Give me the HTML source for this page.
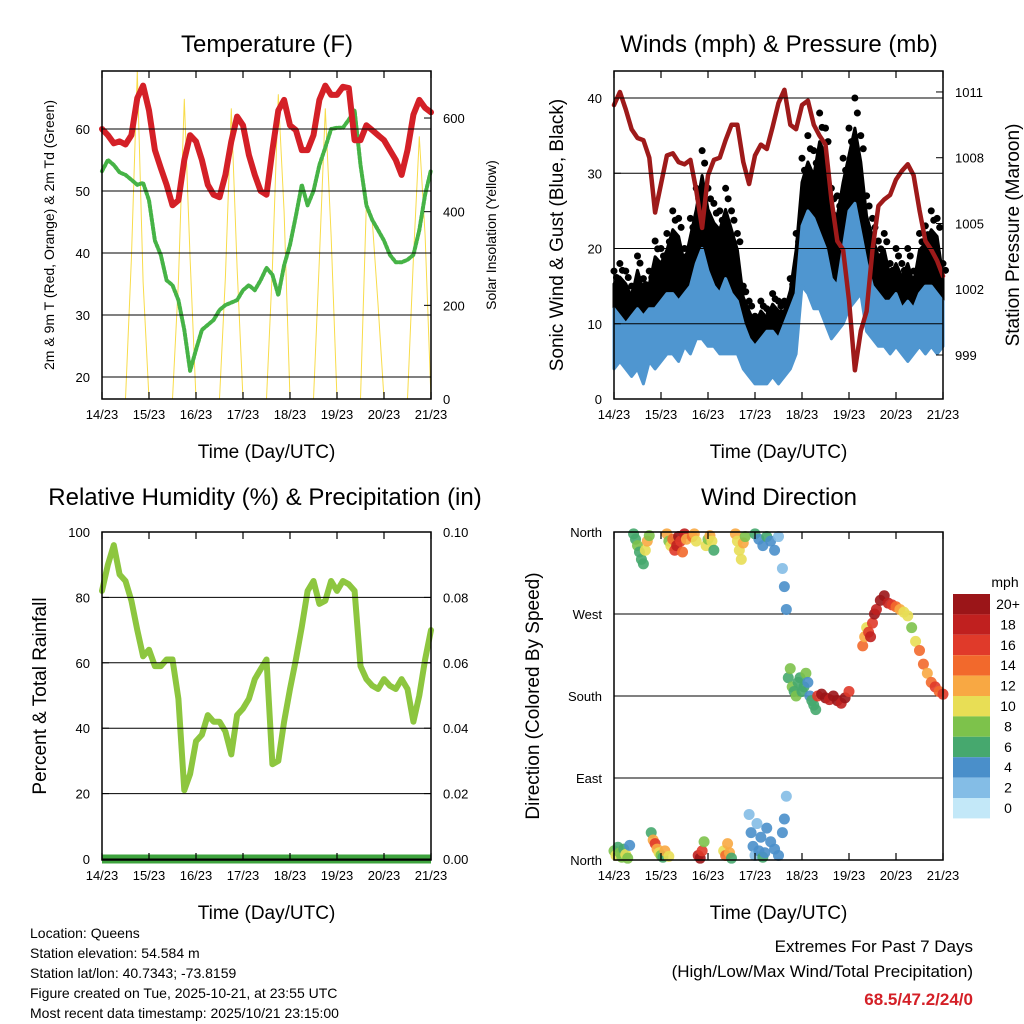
<!DOCTYPE html>
<html><head><meta charset="utf-8"><style>
html,body{margin:0;padding:0;background:#fff}
svg{display:block;font-family:"Liberation Sans",sans-serif}
</style></head><body>
<svg id="s" width="1024" height="1024" viewBox="0 0 1024 1024" xmlns="http://www.w3.org/2000/svg"></svg>
<script>
// ---- data (3-hourly, 57 points from 14/23 to 21/23) ----
const xTickLabels = ["14/23","15/23","16/23","17/23","18/23","19/23","20/23","21/23"];
const tempRed = [60,59,57.7,58,57.5,59,65,67,63,56.6,53.7,51,47.7,48.5,55,59,58,55,51,49.4,49,52.6,58,62,60.6,55.8,52.6,50,49.4,56.6,63,64.7,60.6,59.8,56.6,56.6,59,64.7,67,65.5,65.5,66.8,66.6,58.2,58.2,60.6,59.8,59,58.2,56.6,55,52.6,56.6,62.3,64.7,63.4,62.7];
const dewGreen = [53.2,55,54.2,53,52.6,51.8,51,51.3,48.5,42,39.7,35.6,34.8,32.4,27.6,21,24.4,27.6,28.4,29.2,30.8,31.6,32,32.4,34,34.8,34,35.6,37.6,36.5,33.2,38,41.3,46,51,47.7,50,54.2,57,60,60.2,60.2,61.5,63,54.2,47.7,45.3,43.7,42,39.7,38.5,38.5,38.9,39.7,43.7,49.4,53.4];
const solar = [0,0,0,0,0,300,700,250,0, 0,0,0,0,250,640,300,0, 0,0,0,0,260,620,280,0, 0,0,0,0,280,650,400,0, 0,0,0,0,300,620,350,0, 0,0,0,0,420,380,200,0, 0,0,0,0,300,560,350,0];
const windLow = [4,5,4,3,4,2,5,4,5,6,6,5,7,6,8,8,7,7,6,6,6,6,4,3,2,2,2,3,2,3,4,6,15,14,12,12,10,8,9,10,12,13,14,9,8,7,7,6,7,6,5,6,7,6,7,6,7];
const windHigh = [12,11,10,11,12,11,12,12,13,14,14,13,14,15,18,20,17,15,14,16,14,13,10,8,7,8,9,9,8,10,12,14,23,25,24,22,20,16,15,20,25,26,22,18,15,14,13,13,14,12,13,12,14,15,15,14,13];
const gustHigh = [17,18,17,15,19,16,17,21,20,22,25,24,20,24,28,33,28,26,25,28,25,22,15,13,11,13,12,14,13,13,16,22,32,35,33,38,36,28,27,32,36,40,35,27,24,21,22,18,20,18,20,17,22,23,25,24,18];
const pressure = [1010.4,1011,1010.2,1009.3,1008.9,1008.8,1008,1005.5,1006.8,1008.1,1008.2,1007.8,1007.7,1007.9,1006.5,1004.8,1007.2,1007.9,1008,1008.8,1009.5,1009.5,1007.8,1006.8,1008.1,1008.6,1008.4,1009.4,1010.5,1011.1,1009.5,1009.3,1010.4,1010.6,1009.5,1009,1008.6,1006.1,1004.2,1003.8,1001.5,998.3,1000.1,1001,1003.8,1005.8,1006.1,1006.3,1007,1007.4,1007.7,1007.2,1005.6,1004.2,1003.8,1003.3,1002.6];
const humidity = [82,90,96,87,85,79,70,62,64,59,59,61,61,49,21,26,36,38,44,42,42,39,32,44,46,49,55,58,61,29,30,42,52,61,71,82,85,78,79,85,82,85,84,82,59,55,53,52,55,53,52,55,52,42,50,61,70];
const precip = [0,0,0,0,0,0,0,0,0,0,0,0,0,0,0,0,0,0,0,0,0,0,0,0,0,0,0,0,0,0,0,0,0,0,0,0,0,0,0,0,0,0,0,0,0,0,0,0,0,0,0,0,0,0,0,0,0];
const dirHours = [0,1,2,3,4,5,6,7,8,10,11,12,13,14,15,16,17,18,19,20,21,22,23,24,25,26,28,27,28,29,30,31,32,33,34,35,36,37,43,44,45,46,40,41,42,47,48,49,50,51,56,57,58,59,60,62,63,64,65,66,67,69,70,71,72,73,74,75,76,77,78,80,82,84,86,87,88,72,74,76,78,80,82,84,86,87,88,89,90,91,92,93,94,95,96,97,98,99,100,101,102,103,104,106,108,110,112,114,116,118,120,127,128,129,130,131,132,133,134,136,138,140,142,144,146,148,150,152,154,156,158,160,162,164,166,168];
const dirDeg = [10,5,14,8,3,12,6,2,16,358,352,345,338,330,325,340,350,356,30,22,18,12,8,5,3,10,4,358,350,345,352,340,345,355,350,338,358,352,5,2,10,20,355,358,350,345,352,356,350,340,10,5,18,8,2,358,350,340,330,348,355,50,30,15,5,40,10,25,3,8,35,20,12,5,30,45,70,358,352,345,355,350,340,355,320,300,275,200,210,190,185,180,195,200,185,190,205,195,180,175,170,165,180,182,178,176,180,175,172,178,185,235,245,255,250,245,260,270,275,285,290,282,280,278,275,272,268,255,240,230,215,205,195,190,185,182];
const dirSpeed = [8,10,6,8,9,7,10,8,4,6,7,8,7,7,6,10,12,9,6,13,16,12,10,8,7,12,10,12,8,10,14,16,18,20,16,14,18,12,18,20,16,8,14,12,10,10,8,12,10,6,10,14,12,12,6,12,10,10,10,12,8,2,4,4,3,2,4,4,6,4,4,4,4,5,4,4,2,6,4,4,6,4,4,3,2,4,4,6,8,8,6,8,6,6,7,6,8,4,4,6,6,6,16,20,20,18,20,20,18,20,16,14,12,10,16,18,16,20,18,20,20,18,16,14,12,10,10,8,10,14,14,12,14,16,14,16];
const speedLabels = ["20+","18","16","14","12","10","8","6","4","2","0"];
const speedColors = ["#9b1518","#c0201f","#e03a2a","#f2692c","#f8a843","#e8de55","#7dc24b","#46a86e","#4a8fca","#84bde6","#c3e8f8"];

const S = document.getElementById('s');
const NS = 'http://www.w3.org/2000/svg';
function el(tag, attrs, parent){ const e=document.createElementNS(NS,tag); for(const k in attrs) e.setAttribute(k,attrs[k]); (parent||S).appendChild(e); return e; }
function txt(x,y,s,size,anchor,parent,extra){ const t=el('text',Object.assign({x:x,y:y,'font-size':size,'text-anchor':anchor||'middle',fill:'#000'},extra||{}),parent); t.textContent=s; return t; }

function panel(name, x0, x1, y0, y1){
  const g = el('g',{});
  
  
  return {g,x0,x1,y0,y1, xs:(i)=>x0+(x1-x0)*i/56, xh:(h)=>x0+(x1-x0)*h/168};
}
function frame(p, xTitle){
  const r = el('rect',{x:p.x0,y:p.y0,width:p.x1-p.x0,height:p.y1-p.y0,fill:'none',stroke:'#000','stroke-width':1.5},p.g);
   
  xTickLabels.forEach((l,i)=>{
    const x=p.x0+(p.x1-p.x0)*i/7;
    el('line',{x1:x,x2:x,y1:p.y1,y2:p.y1-7,stroke:'#000','stroke-width':1.2},p.g);
    el('line',{x1:x,x2:x,y1:p.y0,y2:p.y0+7,stroke:'#000','stroke-width':1.2},p.g);
    const t=txt(x,p.y1+20,l,13,'middle',p.g);
     
  });
  const xt=txt((p.x0+p.x1)/2,p.y1+59,xTitle,19,'middle',p.g);
   
}
function yAxis(p, vals, labels, yf, side, grid){
  vals.forEach((v,i)=>{
    const y=yf(v);
    if(grid) el('line',{x1:p.x0,x2:p.x1,y1:y,y2:y,stroke:'#000','stroke-width':1},p.g);
    if(side==='left'){
      el('line',{x1:p.x0,x2:p.x0+7,y1:y,y2:y,stroke:'#000'},p.g);
      const t=txt(p.x0-12,y+5,labels[i],13,'end',p.g);
       
    } else {
      el('line',{x1:p.x1,x2:p.x1-7,y1:y,y2:y,stroke:'#000'},p.g);
      const t=txt(p.x1+12,y+5,labels[i],13,'start',p.g);
       
    }
  });
}
function vtitle(x,y,s,size,name,parent){
  const t=txt(x,y,s,size,'middle',parent,{transform:`rotate(-90 ${x} ${y})`});
   
}
function title(x,y,s,name){ const t=txt(x,y,s,24,'middle');   }
function line(p, arr, yf, color, w, name){
  const d=arr.map((v,i)=>(i?'L':'M')+p.xs(i).toFixed(1)+' '+yf(v).toFixed(1)).join(' ');
  const e=el('path',{d:d,fill:'none',stroke:color,'stroke-width':w,'stroke-linejoin':'round','stroke-linecap':'round'},p.g);
   
  return e;
}

const p1 = panel('temperature-panel',102,431,71,399);
const yT = v=>377-(v-20)*6.2;
const yS = v=>399-v*0.4683;
title(267,52,'Temperature (F)','temperature-title');
line(p1, solar, yS, '#f8dc4a', 1, 'solar-insolation-line');
line(p1, dewGreen, yT, '#46b346', 4, 'dewpoint-line').setAttribute('stroke-dasharray','2.5 2');
line(p1, tempRed, yT, '#d42027', 6, 'temperature-line');
yAxis(p1,[20,30,40,50,60],['20','30','40','50','60'],yT,'left',true);
yAxis(p1,[0,200,400,600],['0','200','400','600'],yS,'right',false);
frame(p1,'Time (Day/UTC)');
vtitle(54,235,'2m & 9m T (Red, Orange) & 2m Td (Green)',14,'y-axis-title',p1.g);
vtitle(496,235,'Solar Insolation (Yellow)',14,'y2-axis-title',p1.g);

const p2 = panel('winds-pressure-panel',614,943,71,399);
const yW = v=>399-v*7.525;
const yP = v=>355-(v-999)*21.92;
title(779,52,'Winds (mph) & Pressure (mb)','winds-title');
{
  const top=gustHigh.map((v,i)=>p2.xs(i).toFixed(1)+','+yW(v*0.9).toFixed(1));
  const bot=windHigh.map((v,i)=>p2.xs(i).toFixed(1)+','+yW(v*0.85).toFixed(1)).reverse();
  const g=el('polygon',{points:top.concat(bot).join(' '),fill:'#000',stroke:'#000','stroke-width':3,'stroke-linejoin':'round'},p2.g);
   
  gustHigh.forEach((v,i)=>{
    const c=el('circle',{cx:p2.xs(i),cy:yW(v),r:3.5,fill:'#000'},p2.g);
     
    const c2=el('circle',{cx:p2.xs(i)+2.5,cy:yW(v*0.95),r:3.5,fill:'#000'},p2.g);
     
  });
  const t2=windHigh.map((v,i)=>p2.xs(i).toFixed(1)+','+yW(v).toFixed(1));
  const b2=windLow.map((v,i)=>p2.xs(i).toFixed(1)+','+yW(v).toFixed(1)).reverse();
  const b=el('polygon',{points:t2.concat(b2).join(' '),fill:'#4f96d0',stroke:'#4f96d0','stroke-width':3,'stroke-linejoin':'round'},p2.g);
   
}
line(p2, pressure, yP, '#9e1a1a', 4.5, 'pressure-line');
yAxis(p2,[0,10,20,30,40],['0','10','20','30','40'],yW,'left',true);
yAxis(p2,[999,1002,1005,1008,1011],['999','1002','1005','1008','1011'],yP,'right',false);
frame(p2,'Time (Day/UTC)');
vtitle(563,235,'Sonic Wind & Gust (Blue, Black)',19,'y-axis-title',p2.g);
vtitle(1019,235,'Station Pressure (Maroon)',19,'y2-axis-title',p2.g);

const p3 = panel('humidity-panel',102,431,532,860);
const yH = v=>859-v*3.27;
const yR = v=>859-v*3270;
title(265,505,'Relative Humidity (%) & Precipitation (in)','humidity-title');
line(p3, humidity, yH, '#8dc63f', 6, 'humidity-line');
line(p3, precip, yR, '#3ea33e', 9, 'precipitation-line').setAttribute('stroke-linecap','butt');
yAxis(p3,[0,20,40,60,80,100],['0','20','40','60','80','100'],yH,'left',true);
yAxis(p3,[0,0.02,0.04,0.06,0.08,0.1],['0.00','0.02','0.04','0.06','0.08','0.10'],yR,'right',false);
frame(p3,'Time (Day/UTC)');
vtitle(46,696,'Percent & Total Rainfall',19,'y-axis-title',p3.g);

const p4 = panel('wind-direction-panel',614,943,532,860);
const yD = v=>860-v*0.9111;
title(779,505,'Wind Direction','wind-direction-title');
yAxis(p4,[0,90,180,270,360],['North','East','South','West','North'],yD,'left',true);
function speedColor(s){ let k=Math.min(10,Math.floor(s/2)); return speedColors[10-k]; }
dirHours.forEach((h,i)=>{
  const c=el('circle',{cx:p4.xh(h),cy:yD(dirDeg[i]),r:5.5,fill:speedColor(dirSpeed[i]),'fill-opacity':0.9},p4.g);
   
});
frame(p4,'Time (Day/UTC)');
vtitle(539,696,'Direction (Colored By Speed)',19,'y-axis-title',p4.g);
{
  const lg=el('g',{});
   
  txt(1005,587,'mph',14,'middle',lg);
  speedLabels.forEach((l,i)=>{
    const y=594+i*20.4;
    const r=el('rect',{x:953,y:y,width:37,height:20.4,fill:speedColors[i]},lg);
     
    const t=txt(1008,y+15,l,14,'middle',lg);
     
  });
}

const info=["Location: Queens","Station elevation: 54.584 m","Station lat/lon: 40.7343; -73.8159","Figure created on Tue, 2025-10-21, at 23:55 UTC","Most recent data timestamp: 2025/10/21 23:15:00"];
info.forEach((s,i)=>{ const t=txt(30,938+i*20,s,14,'start');   });
{ const t=txt(973,952,'Extremes For Past 7 Days',17,'end');   }
{ const t=txt(973,977,'(High/Low/Max Wind/Total Precipitation)',17,'end');   }
{ const t=txt(973,1005,'68.5/47.2/24/0',17,'end',null,{fill:'#d42027','font-weight':'bold'});   }
</script>
</body></html>
